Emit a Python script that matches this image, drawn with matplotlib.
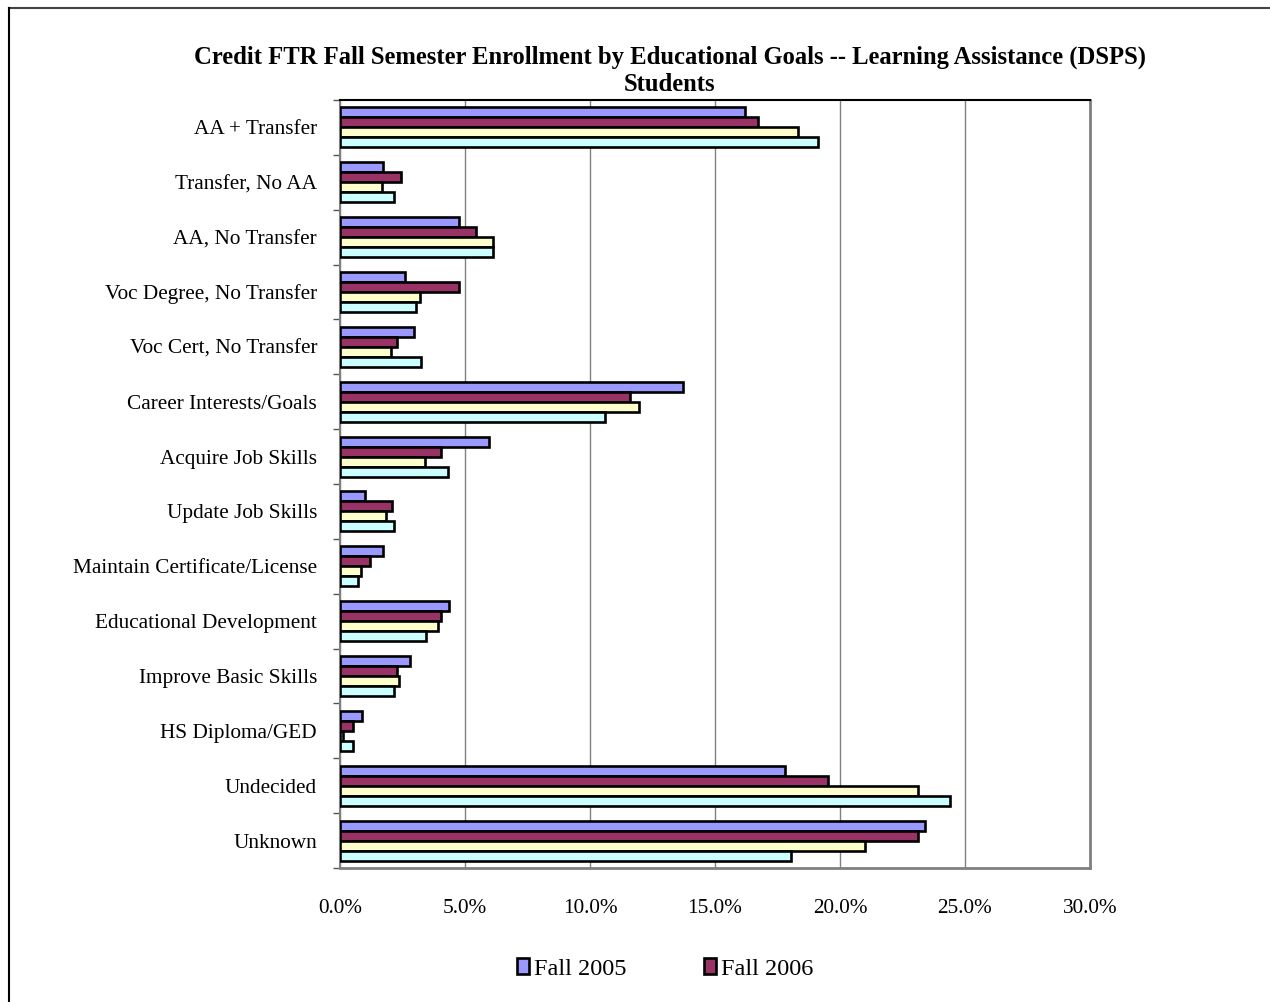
import numpy as np
import matplotlib
matplotlib.use("Agg")
import matplotlib.pyplot as plt
from matplotlib.patches import Patch
from matplotlib.lines import Line2D

plt.rcParams['font.family'] = ['Liberation Serif', 'DejaVu Serif']

# Data (percent of students)
goals = ['AA + Transfer', 'Transfer, No AA', 'AA, No Transfer', 'Voc Degree, No Transfer',
         'Voc Cert, No Transfer', 'Career Interests/Goals', 'Acquire Job Skills',
         'Update Job Skills', 'Maintain Certificate/License', 'Educational Development',
         'Improve Basic Skills', 'HS Diploma/GED', 'Undecided', 'Unknown']
fall_2005 = [16.2, 1.73, 4.75, 2.61, 2.97, 13.7, 5.96, 1.01, 1.73, 4.37, 2.80, 0.87, 17.8, 23.4]
fall_2006 = [16.7, 2.44, 5.44, 4.75, 2.27, 11.6, 4.03, 2.09, 1.21, 4.04, 2.27, 0.51, 19.5, 23.1]
fall_2007 = [18.3, 1.68, 6.13, 3.21, 2.03, 11.95, 3.40, 1.85, 0.83, 3.91, 2.37, 0.13, 23.1, 21.0]
fall_2008 = [19.1, 2.15, 6.12, 3.05, 3.24, 10.6, 4.31, 2.15, 0.71, 3.43, 2.15, 0.51, 24.4, 18.05]
series_names = ['Fall 2005', 'Fall 2006', 'Fall 2007', 'Fall 2008']
colors = ['#9999FF', '#993366', '#FFFFCC', '#CCFFFF']

fig = plt.figure(figsize=(12.7, 10.02), dpi=100)
ax = fig.add_axes([340 / 1270, 1 - 868 / 1002, 750 / 1270, 768 / 1002])

y = np.arange(len(goals))
h = 0.182
series = [fall_2005, fall_2006, fall_2007, fall_2008]
for k, vals in enumerate(series):
    ax.barh(y + (k - 1.5) * h, vals, height=h, color=colors[k],
            edgecolor='black', linewidth=1.9, zorder=3)

ax.set_xlim(0, 30)
ax.set_ylim(len(goals) - 0.5, -0.5)
ax.set_xticks(np.arange(0, 31, 5))
ax.set_xticklabels(['%.1f%%' % v for v in np.arange(0, 31, 5)], fontsize=15.3)
ax.tick_params(axis='x', length=0, pad=22)
ax.set_yticks(y)
ax.set_yticklabels(goals, fontsize=15.3)
ax.set_yticks(np.arange(-0.5, len(goals), 1), minor=True)
ax.tick_params(axis='y', which='major', length=0, pad=16.5)
ax.tick_params(axis='y', which='minor', length=5, width=1, color='#555555')
ax.grid(axis='x', color='#808080', linewidth=1, zorder=0)

ax.spines['top'].set_color('black')
ax.spines['top'].set_linewidth(1.5)
ax.spines['right'].set_color('#808080')
ax.spines['right'].set_linewidth(2)
ax.spines['bottom'].set_color('#808080')
ax.spines['bottom'].set_linewidth(2)
ax.spines['left'].set_color('#808080')
ax.spines['left'].set_linewidth(1.5)

fig.text(670 / 1270, 1 - 71 / 1002,
         'Credit FTR Fall Semester Enrollment by Educational Goals -- Learning Assistance (DSPS)\nStudents',
         ha='center', va='center', fontsize=17.7, fontweight='bold', linespacing=1.2)

handles = [Patch(facecolor=colors[k], edgecolor='black', linewidth=1.9) for k in range(2)]
fig.legend(handles, series_names[:2], loc='center', bbox_to_anchor=(665 / 1270, 1 - 969 / 1002),
           ncol=2, frameon=False, fontsize=17.5, handlelength=0.5, handleheight=0.6,
           handletextpad=0.2, columnspacing=3.2)

# outer chart border (top and left edges visible)
fig.add_artist(Line2D([9 / 1270, 1], [1 - 7.5 / 1002, 1 - 7.5 / 1002], color='#444444', linewidth=1.5))
fig.add_artist(Line2D([9 / 1270, 9 / 1270], [0, 1 - 7.5 / 1002], color='black', linewidth=1.5))

fig.savefig('out.png', dpi=100)
